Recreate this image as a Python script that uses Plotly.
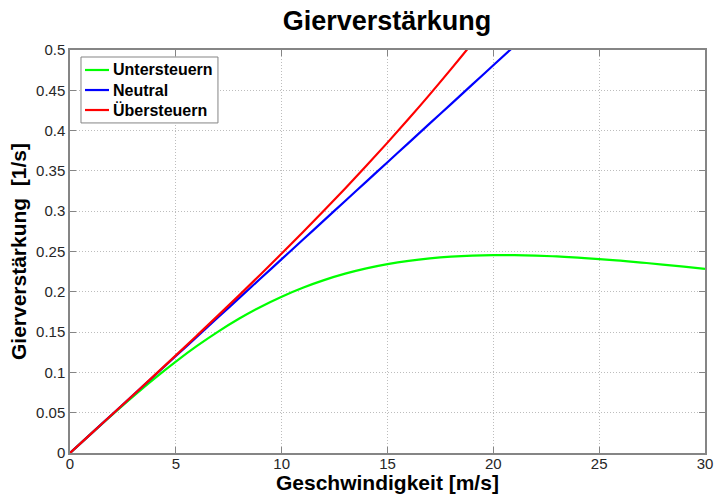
import plotly.graph_objects as go

# Speed [m/s]
speed = list(range(0, 31))

# Yaw gain [1/s] per steering behaviour
understeer = [0.0, 0.02399, 0.04764, 0.07063, 0.09265, 0.11345, 0.13283, 0.15065,
              0.16680, 0.18125, 0.19398, 0.20505, 0.21452, 0.22248, 0.22904, 0.23432,
              0.23843, 0.24148, 0.24362, 0.24492, 0.24550, 0.24546, 0.24488, 0.24383,
              0.24239, 0.24062, 0.23856, 0.23628, 0.23381, 0.23119, 0.22845]
neutral = [0.0, 0.0241, 0.0481, 0.0722, 0.0962, 0.1203, 0.1443, 0.1684, 0.1924,
           0.2165, 0.2405, 0.2646, 0.2886, 0.3127, 0.3367, 0.3608, 0.3848, 0.4089,
           0.4329, 0.4570, 0.4810, 0.5051]
oversteer = [0.0, 0.02406, 0.04815, 0.07233, 0.09663, 0.12110, 0.14577, 0.17070,
             0.19592, 0.22149, 0.24745, 0.27385, 0.30076, 0.32822, 0.35631, 0.38507,
             0.41460, 0.44495, 0.47622, 0.50848, 0.54185]

names = ["Untersteuern", "Neutral", "Übersteuern"]
colors = ["#00ff00", "#0000ff", "#ff0000"]
series = [understeer, neutral, oversteer]

FONT = "Arial, Liberation Sans, Helvetica, sans-serif"

fig = go.Figure()
for name, col, ys in zip(names, colors, series):
    fig.add_trace(go.Scatter(
        x=speed[:len(ys)], y=ys, name=name, mode="lines",
        line=dict(color=col, width=2.2, shape="spline"),
        showlegend=False,
    ))

# Legend box drawn in plot-area (paper) coordinates
LEG_X0, LEG_X1, LEG_Y0, LEG_Y1 = 0.0173, 0.233, 0.819, 0.9826
ROW_Y = [0.9504, 0.9007, 0.8511]
fig.add_shape(type="rect", xref="paper", yref="paper",
              x0=LEG_X0, x1=LEG_X1, y0=LEG_Y0, y1=LEG_Y1,
              line=dict(color="#858585", width=1), fillcolor="white", layer="above")
for name, col, ry in zip(names, colors, ROW_Y):
    fig.add_shape(type="line", xref="paper", yref="paper",
                  x0=0.0236, x1=0.0614, y0=ry, y1=ry,
                  line=dict(color=col, width=2.2), layer="above")
    fig.add_annotation(xref="paper", yref="paper", x=0.0646, y=ry,
                       xanchor="left", yanchor="middle", showarrow=False,
                       text=name,
                       font=dict(family=FONT, size=16, color="black", weight="bold"))

axis_common = dict(
    showline=True, linecolor="#858585", linewidth=1.5, mirror="ticks",
    ticks="inside", ticklen=6, tickcolor="#858585",
    showgrid=True, gridcolor="#bdbdbd", griddash="1px,2px", gridwidth=1,
    zeroline=False, automargin=False,
    tickfont=dict(family=FONT, size=15, color="#262626"),
)

fig.update_layout(
    width=714, height=495,
    margin=dict(l=70, r=9, t=50, b=42),
    paper_bgcolor="white", plot_bgcolor="white",
    title=dict(text="Gierverstärkung", x=0.542, xanchor="center",
               y=0.958, yanchor="middle",
               font=dict(family=FONT, size=27, color="black", weight="bold")),
    xaxis=dict(range=[0, 30], tickvals=[0, 5, 10, 15, 20, 25, 30],
               ticklabelstandoff=-4, **axis_common),
    yaxis=dict(range=[0, 0.5], dtick=0.05, tickformat="~g",
               title=dict(text="Gierverstärkung  [1/s]", standoff=4,
                          font=dict(family=FONT, size=21, color="black", weight="bold")),
               **axis_common),
    showlegend=False,
)

# x-axis title placed just beneath the tick labels
fig.add_annotation(xref="paper", yref="paper", x=0.5, y=0, yanchor="top",
                   yshift=-16, showarrow=False, text="Geschwindigkeit [m/s]",
                   font=dict(family=FONT, size=21, color="black", weight="bold"))

fig.write_html("out.html")
